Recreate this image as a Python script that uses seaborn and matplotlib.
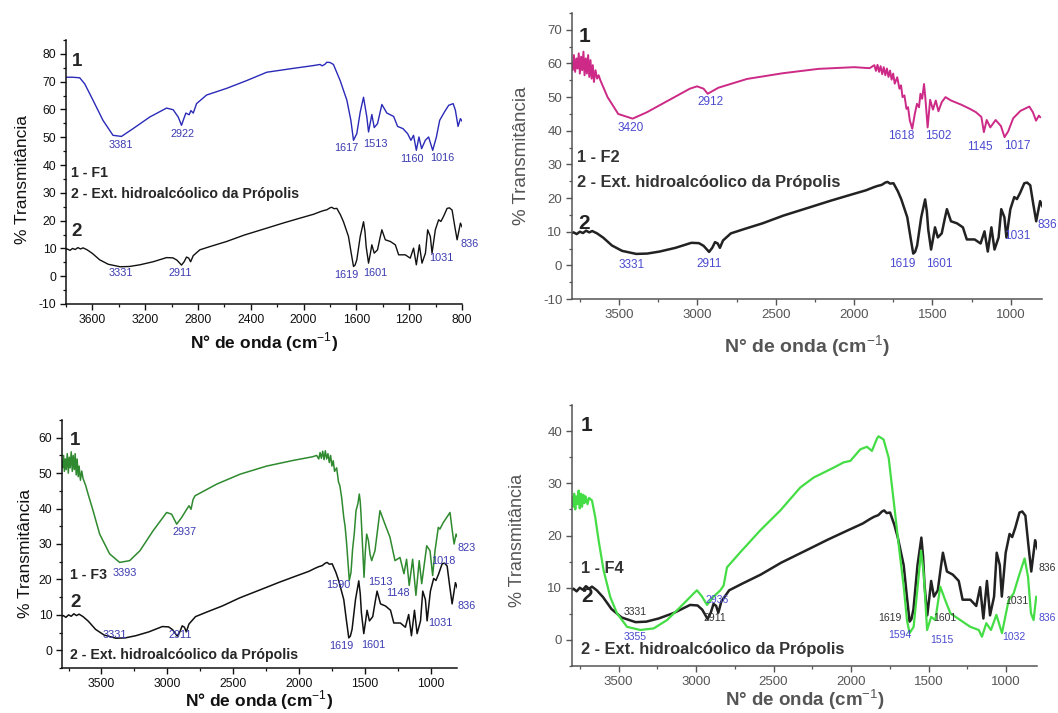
import numpy as np
import pandas as pd
import matplotlib
matplotlib.use("Agg")
import matplotlib.pyplot as plt
from matplotlib.ticker import MultipleLocator
import seaborn as sns

# ---------------- data (wavenumber cm-1, % transmittance) ----------------
ext_wn = [3810, 3790, 3770, 3750, 3730, 3710, 3690, 3671, 3640, 3600, 3545, 3480, 3390, 3320,
          3241, 3140, 3038, 2990, 2960, 2925, 2905, 2887, 2870, 2856, 2836, 2786, 2700, 2583,
          2450, 2279, 2150, 2027, 1924, 1875, 1850, 1824, 1800, 1786, 1770, 1748, 1720, 1698,
          1660, 1640, 1622, 1610, 1597, 1571, 1546, 1535, 1526, 1508, 1495, 1483, 1465, 1440,
          1420, 1407, 1381, 1343, 1305, 1280, 1230, 1192, 1167, 1146, 1123, 1103, 1077, 1060,
          1040, 1027, 1002, 977, 960, 940, 913, 895, 875, 855, 837, 825, 812, 795]
ext_t = [9.4, 9.8, 9.3, 10.0, 9.6, 10.3, 9.8, 10.2, 9.5, 8.2, 5.9, 4.3, 3.4, 3.5,
         4.1, 5.2, 6.7, 6.6, 5.8, 4.0, 5.2, 6.9, 6.5, 5.2, 7.4, 9.5, 10.8, 12.5,
         14.8, 17.3, 19.2, 20.9, 22.3, 23.2, 23.6, 23.9, 24.6, 24.8, 24.3, 24.4, 22.0, 19.6,
         14.3, 8.5, 3.5, 4.0, 5.9, 14.3, 19.6, 16.0, 10.6, 4.7, 8.0, 11.3, 8.3, 9.5,
         14.0, 16.7, 13.1, 12.5, 11.3, 7.7, 7.7, 6.5, 10.1, 4.1, 11.3, 4.7, 8.3, 16.7,
         14.3, 8.3, 16.7, 20.3, 19.7, 21.5, 24.4, 24.6, 23.8, 18.0, 13.1, 16.0, 19.1, 17.3]

f1_wn = [3810, 3750, 3696, 3658, 3595, 3520, 3444, 3380, 3292, 3165, 3038, 2988, 2950, 2925,
         2905, 2892, 2867, 2854, 2836, 2811, 2735, 2583, 2431, 2279, 2077, 1926, 1875, 1860,
         1840, 1824, 1800, 1774, 1723, 1672, 1642, 1622, 1597, 1571, 1546, 1521, 1508, 1483,
         1465, 1440, 1407, 1369, 1318, 1288, 1247, 1212, 1187, 1167, 1146, 1126, 1106, 1078,
         1053, 1022, 994, 969, 933, 901, 867, 850, 830, 812, 795]
f1_t = [71.6, 71.6, 71.4, 69.2, 63.3, 56.1, 50.7, 50.3, 53.1, 57.3, 60.5, 59.9, 57.3, 54.3,
        57.0, 58.7, 58.1, 59.6, 58.7, 62.1, 65.2, 67.6, 70.4, 73.4, 74.8, 75.8, 76.2, 75.7,
        76.2, 77.0, 76.9, 76.2, 70.4, 63.3, 56.1, 48.9, 51.3, 59.1, 64.4, 57.3, 51.9, 58.2,
        53.5, 54.9, 61.8, 58.7, 57.5, 53.9, 53.1, 51.3, 48.9, 50.7, 45.3, 50.1, 45.9, 48.9,
        50.1, 45.3, 50.1, 56.1, 59.1, 61.5, 62.1, 59.7, 53.9, 56.7, 55.5]

f2_wn = [3805, 3795, 3788, 3780, 3772, 3765, 3757, 3750, 3742, 3735, 3727, 3720, 3712, 3705,
         3697, 3690, 3682, 3675, 3667, 3660, 3650, 3640, 3630, 3619, 3573, 3505, 3413, 3322,
         3185, 3048, 3002, 2960, 2934, 2865, 2683, 2454, 2226, 1998, 1900, 1870, 1860, 1850,
         1840, 1830, 1820, 1810, 1800, 1790, 1780, 1770, 1760, 1750, 1740, 1724, 1710, 1700,
         1690, 1678, 1665, 1655, 1644, 1628, 1612, 1598, 1585, 1576, 1565, 1553, 1545, 1530,
         1514, 1496, 1478, 1461, 1440, 1416, 1381, 1313, 1260, 1221, 1187, 1171, 1153, 1130,
         1096, 1062, 1039, 1016, 984, 938, 881, 858, 838, 820, 811]
f2_t = [60.4, 58.0, 62.5, 57.5, 61.5, 58.5, 63.0, 57.0, 62.0, 58.0, 63.5, 56.5, 61.5, 57.0,
        62.5, 56.0, 61.0, 55.5, 59.5, 54.5, 58.0, 55.5, 56.5, 55.0, 50.0, 45.0, 43.6, 45.5,
        49.0, 52.5, 53.2, 52.5, 51.0, 52.8, 55.4, 57.1, 58.4, 58.9, 58.6, 59.5, 57.8, 59.6,
        57.5, 59.2, 56.8, 58.9, 56.5, 58.5, 56.0, 57.9, 55.2, 57.0, 54.0, 55.9, 52.5, 53.5,
        50.0, 50.5, 46.5, 47.0, 43.1, 40.6, 45.0, 48.0, 47.0, 51.0, 49.5, 53.9, 50.0, 41.0,
        49.2, 46.3, 49.0, 45.8, 48.5, 50.0, 49.0, 47.7, 46.5, 45.5, 44.1, 39.6, 43.2, 41.0,
        43.2, 41.4, 38.1, 39.8, 43.7, 45.9, 47.2, 45.5, 43.0, 44.5, 44.0]

f3_wn = [3800, 3795, 3788, 3782, 3775, 3768, 3760, 3752, 3745, 3738, 3730, 3722, 3715, 3707,
         3700, 3692, 3685, 3677, 3670, 3660, 3650, 3640, 3620, 3602, 3564, 3514, 3438, 3362,
         3286, 3208, 3107, 3005, 2967, 2929, 2891, 2853, 2835, 2820, 2805, 2790, 2625, 2448,
         2245, 2043, 1900, 1866, 1850, 1840, 1830, 1820, 1810, 1800, 1790, 1780, 1770, 1760,
         1750, 1740, 1730, 1714, 1700, 1690, 1676, 1660, 1650, 1638, 1618, 1605, 1593, 1580,
         1567, 1552, 1542, 1535, 1529, 1506, 1496, 1486, 1473, 1460, 1448, 1423, 1385, 1347,
         1309, 1271, 1233, 1203, 1183, 1163, 1137, 1112, 1087, 1068, 1030, 1005, 985, 967,
         942, 930, 905, 878, 853, 836, 822, 807, 790]
f3_t = [53.4, 51.5, 55.0, 50.5, 54.0, 51.0, 55.5, 50.0, 54.5, 51.5, 56.0, 50.5, 55.0, 51.0,
        55.5, 49.5, 54.0, 49.0, 52.0, 48.0, 50.6, 48.5, 46.5, 44.1, 39.4, 32.8, 27.2, 24.8,
        25.3, 28.1, 33.8, 38.9, 38.4, 35.6, 37.5, 39.8, 40.8, 39.8, 42.5, 43.6, 46.9, 49.7,
        52.0, 53.6, 54.6, 55.0, 54.0, 55.8, 54.2, 56.2, 53.8, 56.3, 54.0, 55.5, 53.0, 55.0,
        52.0, 53.5, 50.5, 51.5, 47.5, 46.5, 43.1, 37.5, 35.0, 30.0, 19.7, 22.0, 28.5, 33.0,
        39.4, 41.5, 44.1, 42.0, 38.4, 20.6, 28.0, 32.8, 31.0, 27.0, 25.3, 28.1, 39.4, 35.6,
        31.9, 25.3, 26.2, 21.6, 25.7, 18.3, 25.7, 15.5, 25.3, 18.8, 29.5, 28.1, 21.1, 28.1,
        34.7, 34.2, 36.0, 37.5, 38.9, 33.8, 30.0, 32.8, 31.4]

f4_wn = [3800, 3793, 3786, 3779, 3772, 3765, 3757, 3750, 3742, 3735, 3727, 3720, 3712, 3700,
         3690, 3671, 3650, 3628, 3596, 3553, 3510, 3445, 3359, 3273, 3187, 3101, 3015, 2994,
         2961, 2929, 2886, 2843, 2822, 2800, 2714, 2585, 2456, 2327, 2241, 2112, 2048, 2004,
         1940, 1897, 1865, 1832, 1822, 1790, 1757, 1725, 1693, 1660, 1639, 1622, 1596, 1570,
         1548, 1531, 1509, 1483, 1456, 1424, 1392, 1359, 1295, 1230, 1176, 1155, 1127, 1097,
         1062, 1026, 983, 951, 912, 880, 858, 839, 822, 805]
f4_t = [27.3, 25.5, 28.0, 25.0, 27.5, 26.0, 28.6, 25.2, 28.0, 25.5, 27.8, 26.2, 27.5, 26.0,
        27.2, 26.7, 23.5, 19.0, 13.3, 8.2, 5.1, 2.5, 1.9, 2.2, 3.8, 6.3, 8.9, 9.5,
        8.3, 6.7, 8.3, 9.5, 10.4, 13.9, 16.8, 21.0, 24.8, 29.2, 31.1, 33.0, 34.0, 34.3,
        36.5, 37.0, 36.2, 38.6, 39.0, 38.4, 34.9, 26.7, 18.4, 10.2, 3.8, 1.3, 2.5, 10.2,
        17.1, 12.7, 1.9, 4.4, 3.8, 10.2, 7.6, 5.1, 3.8, 2.5, 1.9, 0.6, 3.2, 1.9,
        4.8, 1.3, 7.6, 8.9, 12.7, 15.6, 12.1, 5.1, 3.8, 8.3]

# peak labels: (text, wavenumber, transmittance)
p1_labels = [("3381", 3386, 47.1), ("2922", 2916, 51.1), ("1617", 1673, 46.3), ("1513", 1459, 47.4),
             ("1160", 1181, 42.0), ("1016", 946, 42.5), ("3331", 3386, 1.1), ("2911", 2931, 1.1),
             ("1619", 1679, 0.3), ("1601", 1454, 1.1), ("1031", 954, 6.7), ("836", 740, 11.6)]
p2_labels = [("3420", 3425, 40.9), ("2912", 2916, 48.5), ("1618", 1701, 38.4), ("1502", 1461, 38.4),
             ("1145", 1199, 35.1), ("1017", 959, 35.4), ("3331", 3418, 0.0), ("2911", 2922, 0.5),
             ("1619", 1690, 0.5), ("1601", 1454, 0.5), ("1031", 959, 8.6), ("836", 765, 11.9)]
p3_labels = [("2937", 2866, 33.3), ("3393", 3322, 21.8), ("1590", 1701, 18.5), ("1513", 1385, 19.4),
             ("1148", 1246, 16.1), ("1018", 904, 25.1), ("823", 726, 28.9), ("3331", 3397, 4.4),
             ("2911", 2904, 4.4), ("1619", 1676, 1.2), ("1601", 1436, 1.6), ("1031", 929, 7.7),
             ("836", 726, 12.5)]
p4_labels_blue = [("3355", 3394, 0.6), ("2936", 2865, 7.6), ("1594", 1682, 0.9), ("1515", 1413, 0.0),
                  ("1032", 952, 0.6), ("836", 735, 4.2)]
p4_labels_dark = [("3331", 3394, 5.4), ("2911", 2876, 4.1), ("1619", 1750, 4.2), ("1601", 1392, 4.2),
                  ("1031", 929, 7.4), ("836", 735, 13.7)]

legend_texts = ["1 - F1", "1 - F2", "1 - F3", "1 - F4"]
ext_name = "2 - Ext. hidroalcóolico da Própolis"
xlabel = "N° de onda (cm$^{-1}$)"
ylabel = "% Transmitância"

# ---------------- style ----------------
sns.set_theme(style="ticks")
plt.rcParams["font.family"] = ["Liberation Sans", "DejaVu Sans"]
plt.rcParams["mathtext.fontset"] = "custom"
plt.rcParams["mathtext.rm"] = "Liberation Sans"
plt.rcParams["mathtext.bf"] = "Liberation Sans:bold"
plt.rcParams["axes.unicode_minus"] = False

fig = plt.figure(figsize=(10.58, 7.13), dpi=100)
W, H = 1058, 713


def make_ax(l, r, t, b):
    return fig.add_axes([l / W, (H - b) / H, (r - l) / W, (b - t) / H])


ax1 = make_ax(66, 462, 40, 304)
ax2 = make_ax(572, 1042, 13, 299)
ax3 = make_ax(62, 457, 420, 668)
ax4 = make_ax(572, 1037, 405, 666)


def draw(ax, wn, t, color, lw):
    df = pd.DataFrame({"wn": wn, "t": t})
    sns.lineplot(data=df, x="wn", y="t", ax=ax, color=color, lw=lw, sort=False,
                 estimator=None, legend=False)


def style_ax(ax, ylim, xmaj, ymaj, textcol, tick_size, ylab_xy, ylab_size, xlab_y, xlab_size):
    ax.set_xlim(3800, 800)
    ax.set_ylim(*ylim)
    ax.xaxis.set_major_locator(MultipleLocator(xmaj))
    ax.xaxis.set_minor_locator(MultipleLocator(xmaj / 2))
    ax.yaxis.set_major_locator(MultipleLocator(ymaj))
    ax.yaxis.set_minor_locator(MultipleLocator(ymaj / 2))
    for s in ("top", "right"):
        ax.spines[s].set_visible(False)
    for s in ("left", "bottom"):
        ax.spines[s].set_color(textcol)
        ax.spines[s].set_linewidth(1.1)
    ax.tick_params(which="major", direction="out", length=4, width=1, colors=textcol,
                   labelsize=tick_size, pad=3)
    ax.tick_params(which="minor", direction="out", length=2.5, width=0.9, colors=textcol)
    ax.set_xlabel(xlabel, fontsize=xlab_size, fontweight="bold", color=textcol)
    ax.set_ylabel(ylabel, fontsize=ylab_size, color=textcol)
    ax.yaxis.set_label_coords(*ylab_xy)
    ax.xaxis.set_label_coords(0.5, xlab_y)
    ax.patch.set_alpha(0)


blue_lab = "#3b3bb0"

# ---- panel 1 ----
draw(ax1, ext_wn, ext_t, "#111111", 1.0)
draw(ax1, f1_wn, f1_t, "#2a2ab8", 1.0)
style_ax(ax1, (-10, 85), 400, 10, "#111111", 8.8, (-0.09, 0.47), 12.5, -0.10, 12.5)
for s, x, y in p1_labels:
    ax1.text(x, y, s, color=blue_lab, fontsize=7.8, ha="center", va="center", clip_on=False)
ax1.text(3719, 77.3, "1", fontsize=13.5, fontweight="bold", ha="center", va="center")
ax1.text(3719, 16.0, "2", fontsize=13.5, fontweight="bold", ha="center", va="center")
ax1.text(3760, 37.2, legend_texts[0], fontsize=10.2, fontweight="bold", ha="left", va="center")
ax1.text(3760, 29.5, ext_name, fontsize=10.2, fontweight="bold", ha="left", va="center")

# ---- panel 2 ----
draw(ax2, ext_wn, ext_t, "#222222", 1.8)
draw(ax2, f2_wn, f2_t, "#cc2a86", 1.4)
style_ax(ax2, (-10, 75), 500, 10, "#555555", 9.5, (-0.089, 0.5), 13.5, -0.12, 14)
for s, x, y in p2_labels:
    ax2.text(x, y, s, color="#4a4ad0", fontsize=8.5, ha="center", va="center", clip_on=False)
ax2.text(3720, 68.0, "1", fontsize=15, fontweight="bold", ha="center", va="center", color="#222222")
ax2.text(3720, 12.4, "2", fontsize=15, fontweight="bold", ha="center", va="center", color="#222222")
ax2.text(3765, 32.2, legend_texts[1], fontsize=11.8, fontweight="bold", ha="left", va="center", color="#333333")
ax2.text(3765, 24.5, ext_name, fontsize=11.8, fontweight="bold", ha="left", va="center", color="#333333")

# ---- panel 3 ----
draw(ax3, ext_wn, ext_t, "#111111", 1.1)
draw(ax3, f3_wn, f3_t, "#2f8a2f", 1.1)
style_ax(ax3, (-5, 65), 500, 10, "#111111", 8.8, (-0.073, 0.46), 12.5, -0.083, 12.5)
for s, x, y in p3_labels:
    ax3.text(x, y, s, color=blue_lab, fontsize=7.8, ha="center", va="center", clip_on=False)
ax3.text(3700, 59.3, "1", fontsize=13.5, fontweight="bold", ha="center", va="center")
ax3.text(3700, 13.6, "2", fontsize=13.5, fontweight="bold", ha="center", va="center")
ax3.text(3740, 21.3, legend_texts[2], fontsize=10.2, fontweight="bold", ha="left", va="center")
ax3.text(3740, -1.4, ext_name, fontsize=10.2, fontweight="bold", ha="left", va="center")

# ---- panel 4 ----
draw(ax4, ext_wn, ext_t, "#222222", 1.8)
draw(ax4, f4_wn, f4_t, "#45dd45", 1.6)
style_ax(ax4, (-5, 45), 500, 10, "#555555", 9.5, (-0.099, 0.48), 13, -0.08, 13.5)
for s, x, y in p4_labels_blue:
    ax4.text(x, y, s, color="#4a4ad0", fontsize=7.5, ha="center", va="center", clip_on=False)
for s, x, y in p4_labels_dark:
    ax4.text(x, y, s, color="#333333", fontsize=7.5, ha="center", va="center", clip_on=False)
ax4.text(3706, 41.0, "1", fontsize=15, fontweight="bold", ha="center", va="center", color="#222222")
ax4.text(3706, 8.3, "2", fontsize=15, fontweight="bold", ha="center", va="center", color="#222222")
ax4.text(3745, 13.7, legend_texts[3], fontsize=11.8, fontweight="bold", ha="left", va="center", color="#333333")
ax4.text(3745, -1.9, ext_name, fontsize=11.8, fontweight="bold", ha="left", va="center", color="#333333")

fig.savefig("out.png", dpi=100, facecolor="white")
